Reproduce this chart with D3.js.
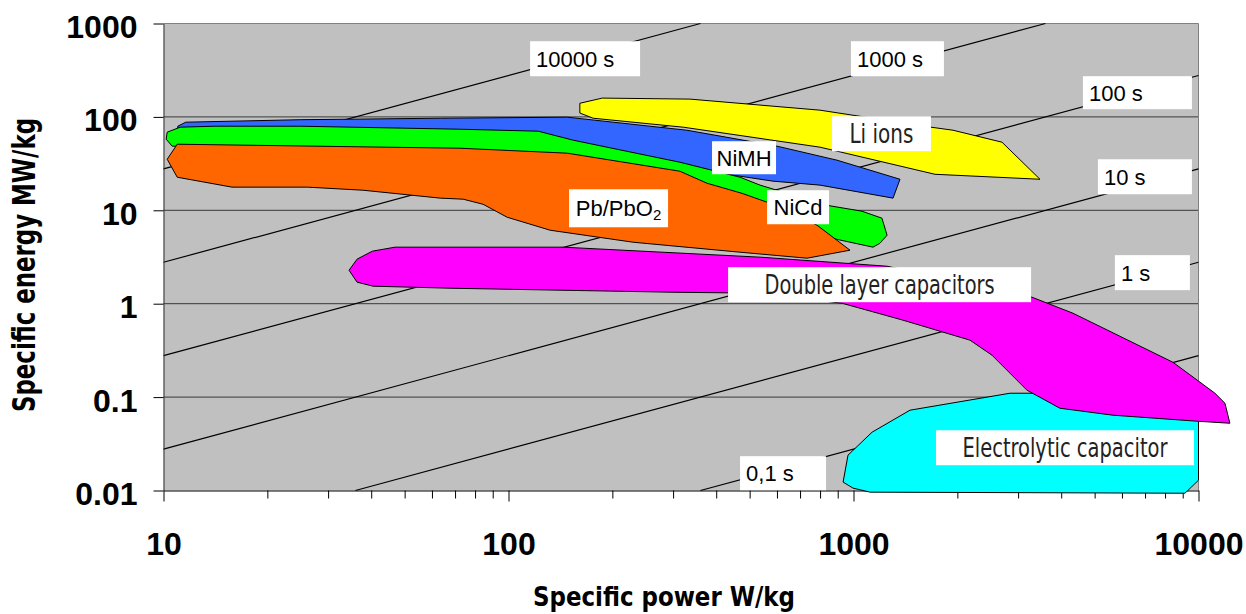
<!DOCTYPE html>
<html>

<head>
  <meta charset="utf8">
  <script src="https://d3js.org/d3.v7.min.js"></script>
  <style>
    body {
      margin: 0;
      background: #fff;
    }

    .axis text {
      font-family: 'Liberation Sans', Arial, sans-serif;
      font-weight: bold;
      font-size: 32px;
      fill: #000;
    }

    .title {
      font-family: 'Liberation Sans Narrow', 'Arial Narrow', 'DejaVu Sans Condensed', sans-serif;
      font-weight: bold;
      fill: #000;
    }

    .region {
      stroke: #000;
      stroke-width: 1;
      stroke-linejoin: round;
    }

    .time-line {
      stroke: #000;
      stroke-width: 1.2;
      fill: none;
    }

    .label-box {
      fill: #fff;
    }

    .time-label,
    .plain-label {
      font-family: 'Liberation Sans', Arial, sans-serif;
      font-size: 22px;
      fill: #000;
    }

    .narrow-label {
      font-family: 'Liberation Sans Narrow', 'Arial Narrow', 'DejaVu Sans Condensed', sans-serif;
      font-size: 26px;
      fill: #222;
    }
  </style>
</head>

<body>
  <svg id="chart" width="1246" height="614"></svg>

  <script>
    // axes
    var powerTicks = [10, 100, 1000, 10000];
    var energyTicks = [0.01, 0.1, 1, 10, 100, 1000];

    // constant discharge time lines, seconds
    var dischargeTimes = [10000, 1000, 100, 10, 1, 0.1];
    var timeLabels = ['10000 s', '1000 s', '100 s', '10 s', '1 s', '0,1 s'];

    // regions, [specific power W/kg, specific energy]
    var liIons = [[161, 140], [187, 159], [336, 155], [800, 118], [1677, 77.6], [1943, 72.0], [2694, 53.6],
      [3471, 21.5], [1723, 24.3], [800, 47.4], [321, 77.6], [176, 96.8], [161, 110]];
    var niMH = [[11.0, 79.5], [11.6, 87.8], [24.9, 93.3], [63.4, 96.8], [148, 99.3], [329, 72.0], [600, 48.6],
      [896, 34.4], [1364, 21.5], [1302, 13.5], [800, 18.6], [585, 20.5], [359, 26.9], [184, 44.0],
      [67.7, 63.7], [17.8, 68.6], [11.0, 68.6]];
    var niCd = [[10.25, 68.6], [11.18, 77.6], [14.1, 79.5], [24.9, 79.5], [72.4, 73.8], [122, 70.3], [154, 56.3],
      [314, 32.7], [469, 22.6], [536, 18.6], [838, 11.3], [1058, 9.78], [1209, 8.23], [1251, 5.41],
      [1193, 4.44], [1139, 4.03], [838, 5.15], [700, 7.46], [359, 16.4], [184, 34.4], [67.7, 44.0],
      [12.8, 48.6], [10.6, 48.6], [10.18, 57.7]];
    var pbPbO2 = [[10.96, 51.0], [72.4, 46.2], [148, 40.9], [314, 26.2], [376, 19.5], [475, 15.2], [562, 12.2],
      [784, 6.93], [977, 3.74], [733, 3.07], [469, 3.56], [230, 4.55], [132, 6.12], [99.1, 8.43],
      [84.4, 11.6], [73.9, 13.15], [63.4, 13.5], [37.9, 16.4], [26.1, 17.7], [15.8, 17.7], [10.96, 22.6],
      [10.25, 35.2]];
    var doubleLayer = [[34.5, 2.28], [36.4, 3.00], [40.3, 3.65], [46.9, 4.03], [144, 4.03], [536, 3.15],
      [1250, 2.52], [3291, 1.174], [4326, 0.791], [8434, 0.236], [11160, 0.110], [11930, 0.086],
      [12330, 0.0525], [9894, 0.0552], [5649, 0.064], [3966, 0.076], [3183, 0.1185], [2520, 0.281],
      [2176, 0.407], [1392, 0.666], [926, 1.012], [536, 1.295], [300, 1.327], [67.7, 1.465], [40.5, 1.54],
      [36.4, 1.70]];
    var electrolytic = [[933, 0.0123], [964, 0.0239], [1132, 0.0421], [1458, 0.0724], [2842, 0.110],
      [3357, 0.110], [5182, 0.0926], [10000, 0.064], [10000, 0.0129], [9135, 0.00935], [1117, 0.0096],
      [997, 0.0106]];

    var chart = d3.select('#chart');
    var margin = { top: 23.5, right: 47.5, bottom: 123.5, left: 163.5 };
    var width = chart.attr('width') - margin.left - margin.right;
    var height = chart.attr('height') - margin.top - margin.bottom;

    var x = d3.scaleLog().domain([10, 10000]).range([0, width]);
    var y = d3.scaleLog().domain([0.01, 1000]).range([height, 0]);

    var group = chart.append('g')
      .attr('transform', 'translate(' + margin.left + ', ' + margin.top + ')');

    group.append('rect')
      .attr('width', width)
      .attr('height', height)
      .attr('fill', '#c0c0c0');

    // horizontal grid
    group.selectAll('.grid')
      .data(energyTicks.slice(1, -1))
      .enter().append('line')
      .attr('x1', 0).attr('x2', width)
      .attr('y1', (d) => y(d)).attr('y2', (d) => y(d))
      .attr('stroke', '#383838');

    // top and right border
    group.append('path')
      .attr('d', 'M0,0H' + width + 'V' + height)
      .attr('fill', 'none')
      .attr('stroke', '#808080');

    // E = P * t / 3600 (Wh/kg), clipped to the axes
    var ends = function (t) {
      var p0 = Math.max(x.domain()[0], y.domain()[0] * 3600 / t);
      var p1 = Math.min(x.domain()[1], y.domain()[1] * 3600 / t);
      return [[p0, p0 * t / 3600], [p1, p1 * t / 3600]];
    };

    var line = d3.line()
      .x((d) => x(d[0]))
      .y((d) => y(d[1]));

    group.selectAll('.time-line')
      .data(dischargeTimes)
      .enter().append('path')
      .attr('class', 'time-line')
      .attr('d', (d) => line(ends(d)));

    // axes
    group.append('g')
      .attr('class', 'axis x-axis')
      .attr('transform', 'translate(0, ' + height + ')')
      .call(d3.axisBottom(x)
        .tickValues(d3.range(1, 4).flatMap((e) => d3.range(2, 10).map((m) => m * Math.pow(10, e))))
        .tickSize(8).tickSizeOuter(0).tickFormat(''))
      .call((g) => g.select('.domain').remove());

    group.append('g')
      .attr('class', 'axis x-axis')
      .attr('transform', 'translate(0, ' + height + ')')
      .call(d3.axisBottom(x).tickValues(powerTicks).tickSize(11).tickSizeOuter(0)
        .tickPadding(31).tickFormat(d3.format('d')))
      .call((g) => g.select('.domain').attr('stroke', '#000'));

    group.append('g')
      .attr('class', 'axis y-axis')
      .call(d3.axisLeft(y).tickValues(energyTicks).tickSize(10).tickSizeOuter(0).tickPadding(16)
        .tickFormat((d) => d < 1 ? String(d) : d3.format('d')(d)))
      .call((g) => g.select('.domain').attr('stroke', '#333'))
      .call((g) => g.selectAll('text').attr('dy', '0.44em'));

    // regions
    var regions = [
      { pts: electrolytic, color: '#00ffff' },
      { pts: doubleLayer, color: '#ff00ff' },
      { pts: liIons, color: '#ffff00' },
      { pts: niMH, color: '#3366ff' },
      { pts: niCd, color: '#00ff00' },
      { pts: pbPbO2, color: '#ff6600' }
    ];

    group.selectAll('.region')
      .data(regions)
      .enter().append('path')
      .attr('class', 'region')
      .attr('fill', (d) => d.color)
      .attr('d', (d) => line(d.pts) + 'Z');

    // label boxes: top-left corner in data units, size in px
    var timeBoxes = [
      { at: [115.5, 646], w: 110, h: 35 },
      { at: [983, 646], w: 93, h: 35 },
      { at: [4624, 272.8], w: 109, h: 33 },
      { at: [5110, 35.2], w: 94, h: 35 },
      { at: [5723, 3.31], w: 75, h: 35 },
      { at: [469, 0.0233], w: 86, h: 34 }
    ];

    timeBoxes.forEach(function (b, i) {
      var bx = x(b.at[0]), by = y(b.at[1]);
      group.append('rect').attr('class', 'label-box')
        .attr('x', bx).attr('y', by).attr('width', b.w).attr('height', b.h);
      group.append('text').attr('class', 'time-label')
        .attr('x', bx + 6).attr('y', by + b.h / 2 + 8)
        .text(timeLabels[i]);
    });

    var regionLabels = [
      { text: 'Li ions', at: [866, 101.7], w: 99, h: 35, cls: 'narrow-label', len: 64 },
      { text: 'NiMH', at: [389, 54.9], w: 64, h: 33, cls: 'plain-label' },
      { text: 'Pb/PbO', sub: '2', at: [149.8, 16.8], w: 99, h: 38, cls: 'plain-label' },
      { text: 'NiCd', at: [561.6, 16.4], w: 62, h: 34, cls: 'plain-label' },
      { text: 'Double layer capacitors', at: [433, 2.46], w: 303, h: 35, cls: 'narrow-label', len: 230 },
      { text: 'Electrolytic capacitor', at: [1734, 0.0442], w: 258, h: 35, cls: 'narrow-label', len: 205 }
    ];

    regionLabels.forEach(function (b) {
      var bx = x(b.at[0]), by = y(b.at[1]);
      group.append('rect').attr('class', 'label-box')
        .attr('x', bx).attr('y', by).attr('width', b.w).attr('height', b.h);
      var t = group.append('text').attr('class', b.cls)
        .attr('x', bx + b.w / 2).attr('y', by + b.h / 2 + (b.cls === 'narrow-label' ? 9.5 : 8))
        .attr('text-anchor', 'middle')
        .text(b.text);
      if (b.len) {
        t.attr('textLength', b.len).attr('lengthAdjust', 'spacingAndGlyphs');
      }
      if (b.sub) {
        t.append('tspan').attr('font-size', '15px').attr('dy', 4).text(b.sub);
      }
    });

    // axis titles
    chart.append('text')
      .attr('class', 'title')
      .attr('x', 664).attr('y', 606)
      .attr('text-anchor', 'middle')
      .attr('font-size', '26px')
      .attr('textLength', 262)
      .attr('lengthAdjust', 'spacingAndGlyphs')
      .text('Specific power W/kg');

    chart.append('text')
      .attr('class', 'title')
      .attr('transform', 'translate(35, 265) rotate(-90)')
      .attr('text-anchor', 'middle')
      .attr('font-size', '32px')
      .attr('textLength', 294)
      .attr('lengthAdjust', 'spacingAndGlyphs')
      .text('Specific energy MW/kg');
  </script>
</body>

</html>
